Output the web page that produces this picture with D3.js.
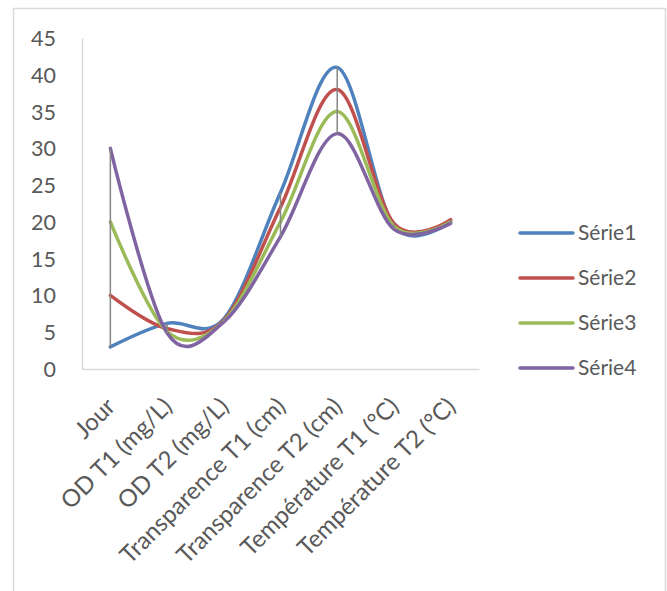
<!DOCTYPE html>
<html lang="fr">
<head>
<meta charset="UTF-8" />
<title>Séries</title>
<script src="https://cdn.jsdelivr.net/npm/d3@7"></script>
<style>
  html, body { margin: 0; background: #fff; }
  svg text { font-family: Lato, "Open Sans", sans-serif; fill: #595959; }
</style>
</head>
<body>
<div id="chart"></div>
<script>
// data
const categories = ["Jour", "OD T1 (mg/L)", "OD T2 (mg/L)", "Transparence T1 (cm)",
  "Transparence T2 (cm)", "Température T1 (°C)", "Température T2 (°C)"];
const serie1 = [3, 6.2, 6.8, 24, 41, 19.5, 20.1];
const serie2 = [10, 5.5, 6.6, 22, 38, 19.8, 20.3];
const serie3 = [20, 5.1, 6.5, 20, 35, 19.4, 20];
const serie4 = [30, 4.9, 6.4, 18, 32, 19, 19.8];
const seriesNames = ["Série1", "Série2", "Série3", "Série4"];
const yTicks = [0, 5, 10, 15, 20, 25, 30, 35, 40, 45];

const colors = ["#4f81bd", "#c0504d", "#9bbb59", "#8064a2"];
const allSeries = [serie1, serie2, serie3, serie4];

const width = 667, height = 591;
const svg = d3.select("#chart").append("svg")
  .attr("width", width).attr("height", height);

// chart frame
svg.append("rect")
  .attr("x", 13.5).attr("y", 8.5).attr("width", 652).attr("height", 620)
  .attr("fill", "none").attr("stroke", "#d9d9d9").attr("stroke-width", 1.5);

const x = d3.scalePoint().domain(categories).range([82, 479]).padding(0.5);
const y = d3.scaleLinear().domain([0, 45]).range([369, 38]);

// y axis
const yAxis = svg.append("g")
  .attr("transform", "translate(82,0)")
  .call(d3.axisLeft(y).tickValues(yTicks).tickSize(0).tickPadding(26));
yAxis.select(".domain").attr("stroke", "#d9d9d9").attr("stroke-width", 1.5);
yAxis.selectAll("text").attr("font-size", 21.5).attr("dy", "0.35em");

// x axis
const xAxis = svg.append("g")
  .attr("transform", "translate(0,369)")
  .call(d3.axisBottom(x).tickSize(0));
xAxis.select(".domain").attr("stroke", "#d9d9d9").attr("stroke-width", 1.5);
xAxis.selectAll("text")
  .attr("font-size", 24)
  .attr("text-anchor", "end")
  .attr("y", 0).attr("dy", "0.35em")
  .attr("transform", "translate(0,33) rotate(-45)");

// lines
const line = d3.line()
  .x((d, i) => x(categories[i]))
  .y(d => y(d))
  .curve(d3.curveCardinal.tension(0));

svg.append("g").selectAll("path")
  .data(allSeries)
  .join("path")
  .attr("d", d => line(d))
  .attr("fill", "none")
  .attr("stroke", (d, i) => colors[i])
  .attr("stroke-width", 3.5)
  .attr("stroke-linecap", "round");

// high-low lines
svg.append("g").selectAll("line")
  .data(categories)
  .join("line")
  .attr("x1", d => x(d)).attr("x2", d => x(d))
  .attr("y1", (d, i) => y(d3.max(allSeries, s => s[i])))
  .attr("y2", (d, i) => y(d3.min(allSeries, s => s[i])))
  .attr("stroke", "#868686")
  .attr("stroke-width", 1.5);

// legend
const legend = svg.append("g").selectAll("g")
  .data(seriesNames)
  .join("g")
  .attr("transform", (d, i) => `translate(520,${233 + i * 45})`);
legend.append("line")
  .attr("x1", 0).attr("x2", 53)
  .attr("stroke", (d, i) => colors[i])
  .attr("stroke-width", 3.5)
  .attr("stroke-linecap", "round");
legend.append("text")
  .attr("x", 58).attr("dy", "0.35em")
  .attr("font-size", 21)
  .text(d => d);
</script>
</body>
</html>
